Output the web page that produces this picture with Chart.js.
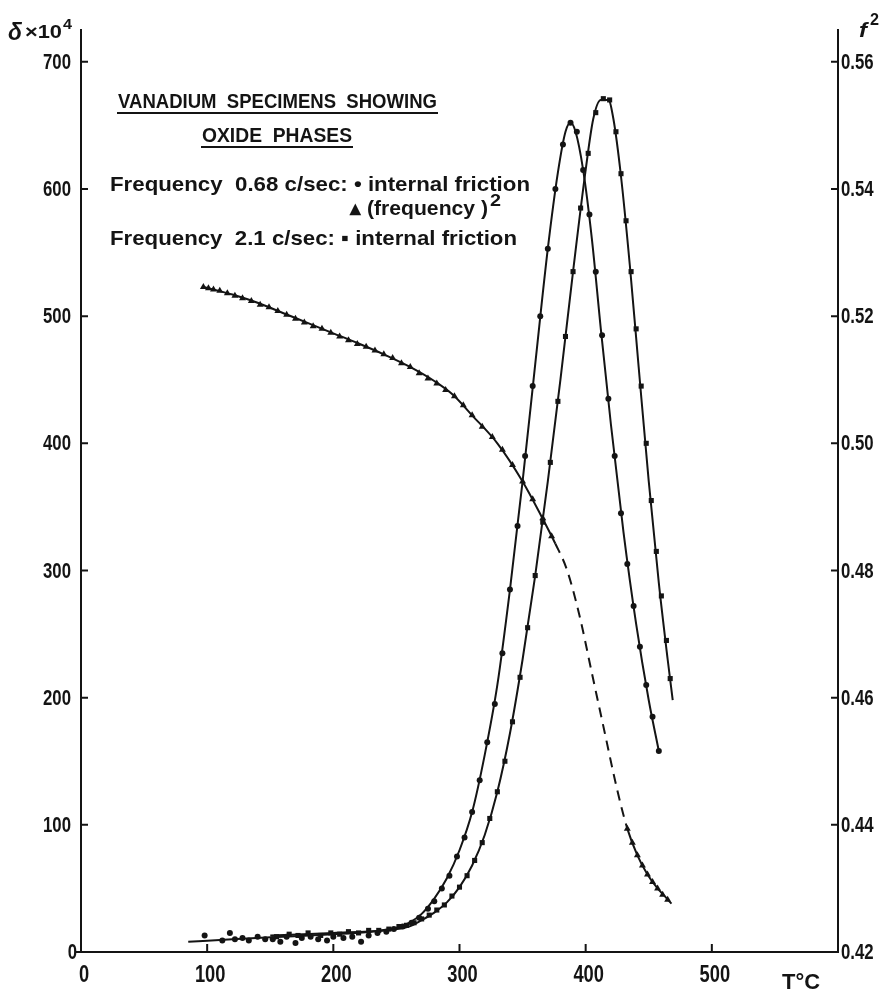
<!DOCTYPE html>
<html>
<head>
<meta charset="utf-8">
<script src="https://cdn.jsdelivr.net/npm/chart.js@4.4.1/dist/chart.umd.min.js"></script>
<style>
  html, body { margin: 0; padding: 0; background: #fff; }
  #wrap { width: 891px; height: 991px; position: relative; }
</style>
</head>
<body>
<div id="wrap"><canvas id="chart"></canvas></div>
<script>
// Vanadium specimens showing oxide phases
// internal friction (left axis) and (frequency)^2 (right axis) against T

// tick labels
const tempTicks = [0, 100, 200, 300, 400, 500];
const deltaTicks = [0, 100, 200, 300, 400, 500, 600, 700];
const f2Ticks = [0.42, 0.44, 0.46, 0.48, 0.50, 0.52, 0.54, 0.56];

// 0.68 c/sec internal friction - drawn curve
const lowFitT = [85, 120, 160, 200, 230, 250, 260, 270, 280, 290, 300, 310, 320, 330, 340, 350, 360, 370, 378, 384, 388, 392, 398, 405, 412, 420, 430, 440, 450, 458];
const lowFitD = [8, 10, 12, 14, 16, 19, 23, 30, 42, 58, 80, 110, 155, 210, 285, 370, 462, 553, 613, 645, 652, 645, 615, 560, 490, 415, 330, 258, 198, 158];
// 0.68 c/sec internal friction - measured points
const lowPtT = [98, 112, 118, 122, 128, 133, 140, 146, 152, 158, 163, 170, 175, 182, 188, 195, 200, 208, 215, 222, 228, 235, 242, 248, 255, 262, 268, 275, 280, 286, 292, 298, 304, 310, 316, 322, 328, 334, 340, 346, 352, 358, 364, 370, 376, 382, 388, 393, 398, 403, 408, 413, 418, 423, 428, 433, 438, 443, 448, 453, 458];
const lowPtD = [13, 9, 15, 10, 11, 9, 12, 10, 10, 8, 12, 7, 11, 12, 10, 9, 12, 11, 12, 8, 13, 15, 16, 18, 20, 23, 27, 34, 40, 50, 60, 75, 90, 110, 135, 165, 195, 235, 285, 335, 390, 445, 500, 553, 600, 635, 652, 645, 615, 580, 535, 485, 435, 390, 345, 305, 272, 240, 210, 185, 158];

// 2.1 c/sec internal friction - drawn curve
const highFitT = [150, 200, 240, 260, 270, 280, 290, 300, 310, 320, 330, 340, 350, 360, 370, 380, 390, 400, 406, 412, 418, 422, 428, 435, 442, 450, 458, 465, 469];
const highFitD = [13, 15, 17, 20, 25, 31, 39, 51, 68, 92, 126, 172, 230, 296, 370, 450, 535, 615, 655, 670, 670, 655, 610, 540, 460, 370, 290, 230, 198];
// 2.1 c/sec internal friction - measured points
const highPtT = [155, 165, 172, 180, 190, 198, 205, 212, 220, 228, 236, 244, 252, 258, 264, 270, 276, 282, 288, 294, 300, 306, 312, 318, 324, 330, 336, 342, 348, 354, 360, 366, 372, 378, 384, 390, 396, 402, 408, 414, 419, 424, 428, 432, 436, 440, 444, 448, 452, 456, 460, 464, 467];
const highPtD = [12, 14, 13, 15, 13, 15, 14, 16, 15, 17, 17, 18, 20, 21, 23, 26, 29, 33, 37, 44, 51, 60, 72, 86, 105, 126, 150, 181, 216, 255, 296, 338, 385, 433, 484, 535, 585, 628, 660, 671, 670, 645, 612, 575, 535, 490, 445, 400, 355, 315, 280, 245, 215];

// 0.68 c/sec (frequency)^2 - drawn curve, dashed between dashFromT and dashToT
const triFitT = [97, 120, 140, 160, 180, 200, 220, 240, 260, 280, 295, 310, 330, 350, 365, 376, 385, 395, 405, 415, 425, 433, 441, 449, 457, 463, 468];
const triFitF = [0.5246, 0.5234, 0.5221, 0.5205, 0.5189, 0.5173, 0.5157, 0.5140, 0.5121, 0.5098, 0.5076, 0.5044, 0.5000, 0.4940, 0.4885, 0.4842, 0.4802, 0.4730, 0.4638, 0.4546, 0.4455, 0.4394, 0.4352, 0.4322, 0.4300, 0.4287, 0.4276];
const dashFromT = 376;
const dashToT = 433;
// 0.68 c/sec (frequency)^2 - measured points
const triPtT = [97, 101, 105, 110, 116, 122, 128, 135, 142, 149, 156, 163, 170, 177, 184, 191, 198, 205, 212, 219, 226, 233, 240, 247, 254, 261, 268, 275, 282, 289, 296, 303, 310, 318, 326, 334, 342, 350, 358, 366, 373, 433, 437, 441, 445, 449, 453, 457, 461, 465];
const triPtF = [0.5246, 0.5244, 0.5242, 0.5240, 0.5236, 0.5232, 0.5228, 0.5224, 0.5218, 0.5214, 0.5208, 0.5202, 0.5196, 0.5190, 0.5184, 0.5180, 0.5174, 0.5168, 0.5162, 0.5156, 0.5152, 0.5146, 0.5140, 0.5134, 0.5126, 0.5120, 0.5110, 0.5102, 0.5094, 0.5084, 0.5074, 0.5060, 0.5044, 0.5026, 0.5010, 0.4990, 0.4966, 0.4940, 0.4912, 0.4882, 0.4854, 0.4394, 0.4372, 0.4352, 0.4336, 0.4322, 0.4310, 0.4300, 0.4290, 0.4282];

const INK = '#141414';
const FONT = "'Liberation Sans', Arial, sans-serif";
const BOLD = 'bold ';

function pairs(xs, ys) {
  return xs.map((x, i) => ({ x: x, y: ys[i] }));
}

function curve(xs, ys, axis) {
  return {
    data: pairs(xs, ys), yAxisID: axis, showLine: true,
    borderColor: INK, borderWidth: 2, pointRadius: 0,
    cubicInterpolationMode: 'monotone', fill: false
  };
}

function marks(xs, ys, axis, style, r) {
  return {
    data: pairs(xs, ys), yAxisID: axis, showLine: false,
    pointStyle: style, pointRadius: r, pointHoverRadius: r,
    backgroundColor: INK, borderColor: INK, borderWidth: 0
  };
}

// text squeezed to a given width (the lettering on the original is narrow)
function fitText(ctx, str, x, y, w, font) {
  ctx.font = font;
  const m = ctx.measureText(str).width;
  ctx.save();
  ctx.translate(x, y);
  ctx.scale(w / m, 1);
  ctx.fillText(str, 0, 0);
  ctx.restore();
}

// text squeezed by a fixed factor, any alignment
function narrowText(ctx, str, x, y, sx) {
  ctx.save();
  ctx.translate(x, y);
  ctx.scale(sx, 1);
  ctx.fillText(str, 0, 0);
  ctx.restore();
}

// ticks point into the plot, labels drawn narrow
const axesDeco = {
  id: 'axesDeco',
  afterDraw(chart) {
    const { ctx, chartArea: a, scales } = chart;
    ctx.save();
    ctx.strokeStyle = INK;
    ctx.fillStyle = INK;
    ctx.lineWidth = 2;
    ctx.beginPath();
    tempTicks.forEach(v => {
      if (v === 0) return;
      const px = scales.x.getPixelForValue(v);
      ctx.moveTo(px, a.bottom);
      ctx.lineTo(px, a.bottom - 8);
    });
    deltaTicks.forEach(v => {
      const py = scales.y.getPixelForValue(v);
      ctx.moveTo(v === 0 ? a.left - 6 : a.left, py);
      ctx.lineTo(a.left + 7, py);
    });
    f2Ticks.forEach(v => {
      const py = scales.y2.getPixelForValue(v);
      ctx.moveTo(a.right, py);
      ctx.lineTo(a.right - 7, py);
    });
    ctx.stroke();

    ctx.font = BOLD + '22px ' + FONT;
    const sx = 28 / ctx.measureText('700').width;

    ctx.textBaseline = 'middle';
    ctx.textAlign = 'right';
    scales.y.ticks.forEach(t => {
      const py = scales.y.getPixelForValue(t.value);
      narrowText(ctx, String(t.value), t.value === 0 ? 77 : 71, py + 1, sx);
    });
    ctx.textAlign = 'left';
    scales.y2.ticks.forEach(t => {
      const py = scales.y2.getPixelForValue(t.value);
      narrowText(ctx, t.value.toFixed(2), a.right + 3, py + 1, sx);
    });

    ctx.font = BOLD + '24px ' + FONT;
    ctx.textBaseline = 'alphabetic';
    ctx.textAlign = 'center';
    scales.x.ticks.forEach(t => {
      const px = scales.x.getPixelForValue(t.value);
      narrowText(ctx, String(t.value), px + 3, 982, sx);
    });
    ctx.restore();
  }
};

// title, key and axis names
const labels = {
  id: 'labels',
  afterDraw(chart) {
    const ctx = chart.ctx;
    ctx.save();
    ctx.fillStyle = INK;
    ctx.strokeStyle = INK;
    ctx.textBaseline = 'alphabetic';
    ctx.textAlign = 'left';

    const f20 = BOLD + '21px ' + FONT;
    fitText(ctx, 'VANADIUM  SPECIMENS  SHOWING', 118, 108, 319, f20);
    fitText(ctx, 'OXIDE  PHASES', 202, 142, 150, f20);
    ctx.lineWidth = 2;
    ctx.beginPath();
    ctx.moveTo(117, 113); ctx.lineTo(438, 113);
    ctx.moveTo(201, 147); ctx.lineTo(353, 147);
    ctx.stroke();

    fitText(ctx, 'Frequency  0.68 c/sec: \u2022 internal friction', 110, 191, 420, f20);
    fitText(ctx, '\u25B4 (frequency )', 350, 215, 138, f20);
    fitText(ctx, '2', 490, 206, 11, BOLD + '17px ' + FONT);
    fitText(ctx, 'Frequency  2.1 c/sec: \u25AA internal friction', 110, 245, 407, f20);

    // axis names
    fitText(ctx, '\u03B4', 8, 40, 14, 'bold italic 24px ' + FONT);
    fitText(ctx, '\u00D710', 25, 38, 37, BOLD + '19px ' + FONT);
    fitText(ctx, '4', 63, 29, 9, BOLD + '15px ' + FONT);
    fitText(ctx, 'f', 859, 37, 8, 'bold italic 21px ' + FONT);
    fitText(ctx, '2', 870, 25, 9, BOLD + '17px ' + FONT);
    fitText(ctx, 'T\u00B0C', 782, 989, 38, BOLD + '22px ' + FONT);
    ctx.restore();
  }
};

new Chart(document.getElementById('chart'), {
  type: 'scatter',
  data: {
    datasets: [
      curve(lowFitT, lowFitD, 'y'),
      marks(lowPtT, lowPtD, 'y', 'circle', 3),
      curve(highFitT, highFitD, 'y'),
      marks(highPtT, highPtD, 'y', 'rect', 3.6),
      Object.assign(curve(triFitT, triFitF, 'y2'), {
        segment: {
          borderDash: c => (c.p0.parsed.x >= dashFromT && c.p1.parsed.x <= dashToT) ? [10, 7] : undefined
        }
      }),
      marks(triPtT, triPtF, 'y2', 'triangle', 4)
    ]
  },
  options: {
    responsive: true,
    maintainAspectRatio: false,
    devicePixelRatio: 1,
    animation: false,
    layout: { padding: { top: 30, left: 0, right: 0, bottom: 0 } },
    plugins: {
      legend: { display: false },
      title: { display: false },
      tooltip: { enabled: false }
    },
    scales: {
      x: {
        type: 'linear', min: 0, max: 600,
        afterBuildTicks: s => { s.ticks = tempTicks.map(v => ({ value: v })); },
        afterFit: s => { s.height = 39; },
        grid: { display: false, drawTicks: false },
        border: { display: true, color: INK, width: 2 },
        ticks: { display: false }
      },
      y: {
        type: 'linear', position: 'left', min: 0, max: 725,
        afterBuildTicks: s => { s.ticks = deltaTicks.map(v => ({ value: v })); },
        afterFit: s => { s.width = 81; },
        grid: { display: false, drawTicks: false },
        border: { display: true, color: INK, width: 2 },
        ticks: { display: false }
      },
      y2: {
        type: 'linear', position: 'right', min: 0.42, max: 0.565,
        afterBuildTicks: s => { s.ticks = f2Ticks.map(v => ({ value: v })); },
        afterFit: s => { s.width = 53; },
        grid: { display: false, drawTicks: false },
        border: { display: true, color: INK, width: 2 },
        ticks: { display: false }
      }
    }
  },
  plugins: [axesDeco, labels]
});
</script>
</body>
</html>
